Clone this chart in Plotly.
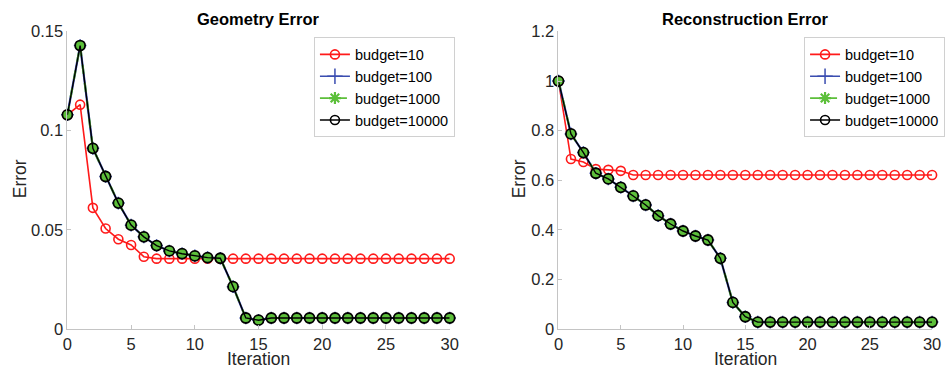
import plotly.graph_objects as go

iterations = list(range(31))

geo_b10 = [0.108, 0.1131, 0.0611, 0.0507, 0.0453, 0.0424, 0.0365] + [0.0355] * 24
geo_big = [0.108, 0.1429, 0.0911, 0.0769, 0.0635, 0.0524, 0.0465, 0.0421, 0.0394,
           0.0380, 0.0369, 0.0360, 0.0357, 0.0214, 0.0056, 0.0045] + [0.0056] * 15

rec_b10 = [1.0, 0.6855, 0.6734, 0.645, 0.642, 0.638] + [0.6215] * 25
rec_big = [1.0, 0.787, 0.7117, 0.6283, 0.6054, 0.5718, 0.5368, 0.5005, 0.4574,
           0.4238, 0.3955, 0.3754, 0.3592, 0.2852, 0.1076, 0.0498] + [0.0283] * 15

series_names = ["budget=10", "budget=100", "budget=1000", "budget=10000"]
titles = ["Geometry Error", "Reconstruction Error"]
y_ranges = [[0, 0.15], [0, 1.2]]
y_dticks = [0.05, 0.2]

RED = "#ff1a1a"
BLUE = "#3a4db0"
GREEN = "#5cbf3a"
BLACK = "#000000"
AXC = "#c4c4c4"
TXT = "#262626"
FONT = "Liberation Sans, Arial, sans-serif"

fig = go.Figure()

panels = [(geo_b10, geo_big), (rec_b10, rec_big)]
for i, (small, big) in enumerate(panels):
    xa = "x" if i == 0 else "x2"
    ya = "y" if i == 0 else "y2"
    lg = "legend" if i == 0 else "legend2"
    fig.add_trace(go.Scatter(x=iterations, y=small, mode="lines+markers", xaxis=xa, yaxis=ya,
                             line=dict(color=RED, width=1.6), cliponaxis=False, showlegend=False,
                             marker=dict(symbol="circle-open", size=9, color=RED, line=dict(width=1.6))))
    fig.add_trace(go.Scatter(x=iterations, y=big, mode="lines+markers", xaxis=xa, yaxis=ya,
                             line=dict(color=BLUE, width=2.2), cliponaxis=False, showlegend=False,
                             marker=dict(symbol="cross-thin-open", size=9, color=BLUE, line=dict(width=1.5))))
    fig.add_trace(go.Scatter(x=iterations, y=big, mode="lines+markers", xaxis=xa, yaxis=ya,
                             line=dict(color=GREEN, width=2.2, dash="dash"), cliponaxis=False, showlegend=False,
                             marker=dict(symbol="circle", size=10, color=GREEN, line=dict(width=0))))
    fig.add_trace(go.Scatter(x=iterations, y=big, mode="lines+markers", xaxis=xa, yaxis=ya,
                             line=dict(color=BLACK, width=1.4), cliponaxis=False, showlegend=False,
                             marker=dict(symbol="circle-open", size=10, color=BLACK, line=dict(width=1.8))))
    legend_styles = [
        dict(line=dict(color=RED, width=1.6), marker=dict(symbol="circle-open", size=9, color=RED, line=dict(width=1.6))),
        dict(line=dict(color=BLUE, width=1.6), marker=dict(symbol="cross-thin-open", size=11, color=BLUE, line=dict(width=1.5))),
        dict(line=dict(color=GREEN, width=1.6, dash="dash"), marker=dict(symbol="asterisk-open", size=10, color=GREEN, line=dict(width=2.2))),
        dict(line=dict(color=BLACK, width=1.6), marker=dict(symbol="circle-open", size=9, color=BLACK, line=dict(width=1.6))),
    ]
    for name, st in zip(series_names, legend_styles):
        fig.add_trace(go.Scatter(x=[None], y=[None], mode="lines+markers", name=name, xaxis=xa, yaxis=ya,
                                 legend=lg, **st))

W = 947.0
H = 372.0


# map a target screen pixel to figure layout pixels (compensates the observed rendering squeeze)
def fx(v):
    return min(1.0, max(0.0, ((v - 2.5) / 0.987) / W))


def fy(v, clamp=True):
    p = 1 - ((v - 8.6) / 0.9495) / H
    return min(1.0, max(0.0, p)) if clamp else p


ydom = [fy(328), fy(31)]
xdoms = [[fx(65), fx(448)], [fx(557), 941 / W]]

axis_common = dict(showline=True, linecolor=AXC, linewidth=1, ticks="inside", ticklen=4,
                   tickcolor=AXC, showgrid=False, zeroline=False, mirror=False,
                   tickfont=dict(family=FONT, size=16.5, color=TXT))

legend_common = dict(y=fy(37), xanchor="left", yanchor="top", bgcolor="white",
                     bordercolor="#d0d0d0", borderwidth=1, font=dict(family=FONT, size=14.5, color=BLACK),
                     tracegroupgap=0, itemwidth=30)

fig.update_layout(
    width=947, height=372, margin=dict(l=0, r=0, t=0, b=0),
    paper_bgcolor="white", plot_bgcolor="white",
    font=dict(family=FONT, color=TXT),
    xaxis=dict(domain=xdoms[0], range=[0, 30], dtick=5, anchor="y", **axis_common),
    yaxis=dict(domain=ydom, range=y_ranges[0], dtick=y_dticks[0], anchor="x", **axis_common),
    xaxis2=dict(domain=xdoms[1], range=[0, 30], dtick=5, anchor="y2", **axis_common),
    yaxis2=dict(domain=ydom, range=y_ranges[1], dtick=y_dticks[1], anchor="x2", **axis_common),
    legend=dict(x=fx(312), **legend_common),
    legend2=dict(x=fx(803), **legend_common),
)

for i in range(2):
    cx = (xdoms[i][0] + xdoms[i][1]) / 2
    fig.add_annotation(text="<b>" + titles[i] + "</b>", x=cx, y=fy(19), xref="paper", yref="paper",
                       xanchor="center", yanchor="middle", showarrow=False,
                       font=dict(family=FONT, size=16.5, color=BLACK))
    fig.add_annotation(text="Iteration", x=cx, y=fy(358, clamp=False), xref="paper", yref="paper",
                       xanchor="center", yanchor="middle", showarrow=False,
                       font=dict(family=FONT, size=17.5, color=TXT))
    ex = 17 if i == 0 else 517
    fig.add_annotation(text="Error", x=fx(ex), y=fy(178), xref="paper", yref="paper",
                       xanchor="center", yanchor="middle", showarrow=False, textangle=-90,
                       font=dict(family=FONT, size=17.5, color=TXT))

fig.write_html("out.html")
